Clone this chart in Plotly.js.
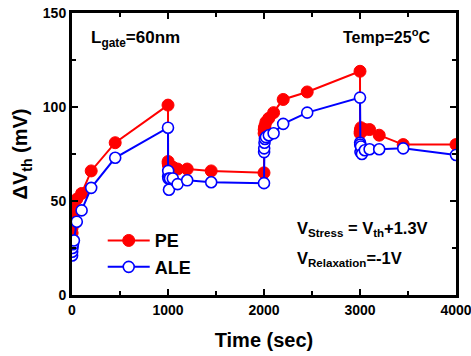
<!DOCTYPE html>
<html>
<head>
<meta charset="utf-8">
<script src="https://cdn.plot.ly/plotly-3.0.1.min.js"></script>
<style>
  html, body { margin: 0; padding: 0; background: #fff; }
  #chart { width: 471px; height: 356px; }
</style>
</head>
<body>
<div id="chart"></div>
<script>
// Measurement times (s): stress 0-1000, relax 1000-2000, stress 2000-3000, relax 3000-4000
const timeSec = [
  1, 2, 5, 10, 20, 50, 100, 200, 450, 1000,
  1001, 1002, 1005, 1010, 1020, 1050, 1100, 1200, 1450, 2000,
  2001, 2002, 2005, 2010, 2020, 2050, 2100, 2200, 2450, 3000,
  3001, 3002, 3005, 3010, 3020, 3050, 3100, 3200, 3450, 4000
];

// Threshold voltage shift (mV)
const dVthPE = [
  33, 36, 39, 42, 46, 51, 54, 66, 81, 101,
  71, 70, 69, 69, 68, 68, 67, 67, 66, 65,
  86, 88, 89, 90, 92, 94, 97, 104, 108, 119,
  86, 87, 88, 89, 88, 88, 88, 85, 80, 80
];
const dVthALE = [
  21, 23, 25, 27, 29, 39, 45, 57, 73, 89,
  63, 66, 62, 56, 62, 62, 59, 61, 60, 59.5,
  76, 78, 81, 83, 84, 85, 86, 91, 97, 105,
  81, 80, 76, 79, 75, 77, 77.5, 77.5, 78, 74.5
];

const xTickVals = [0, 1000, 2000, 3000, 4000];
const yTickVals = [0, 50, 100, 150];

const FONT = 'Liberation Sans, Arial, sans-serif';

const traces = [
  {
    name: 'PE', x: timeSec, y: dVthPE, type: 'scatter', mode: 'lines+markers',
    line: { color: '#ff0000', width: 2 },
    marker: { symbol: 'circle', size: 12, color: '#ff0000', line: { color: '#ff0000', width: 1 } }
  },
  {
    name: 'ALE', x: timeSec, y: dVthALE, type: 'scatter', mode: 'lines+markers',
    line: { color: '#0000ff', width: 2 },
    marker: { symbol: 'circle', size: 11, color: '#ffffff', line: { color: '#0000ff', width: 1.6 } }
  }
];

const axisCommon = {
  showline: true, linecolor: '#000', linewidth: 3, mirror: 'ticks',
  ticks: 'inside', ticklen: 6, tickwidth: 2, tickcolor: '#000',
  showgrid: false, zeroline: false, ticklabeloverflow: 'allow',
  tickfont: { family: FONT, size: 14, color: '#000', weight: 'bold' }
};

const layout = {
  width: 471, height: 356,
  margin: { l: 72, r: 15, t: 13, b: 61 },
  paper_bgcolor: '#fff', plot_bgcolor: '#fff',
  showlegend: true,
  legend: {
    x: 0.08, y: 0.258, xanchor: 'left', yanchor: 'top',
    bgcolor: 'rgba(0,0,0,0)', borderwidth: 0, itemwidth: 42,
    font: { family: FONT, size: 18, color: '#000', weight: 'bold' },
    tracegroupgap: 0
  },
  xaxis: Object.assign({}, axisCommon, {
    range: [0, 4000], tickvals: xTickVals, ticktext: xTickVals.map(String),
    minor: { dtick: 500, tick0: 0, ticks: 'inside', ticklen: 4, tickwidth: 2, tickcolor: '#000' },
    title: { text: 'Time (sec)', font: { family: FONT, size: 20, color: '#000', weight: 'bold' }, standoff: 17 }
  }),
  yaxis: Object.assign({}, axisCommon, {
    range: [0, 150], tickvals: yTickVals, ticktext: yTickVals.map(String),
    minor: { dtick: 25, tick0: 0, ticks: 'inside', ticklen: 4, tickwidth: 2, tickcolor: '#000' },
    title: { text: 'ΔV<sub>th</sub> (mV)', font: { family: FONT, size: 20, color: '#000', weight: 'bold' }, standoff: 10 }
  }),
  annotations: [
    {
      xref: 'paper', yref: 'paper', x: 0.045, y: 0.955, xanchor: 'left', yanchor: 'top', showarrow: false,
      text: 'L<sub>gate</sub>=60nm', font: { family: FONT, size: 17, color: '#000', weight: 'bold' }
    },
    {
      xref: 'paper', yref: 'paper', x: 0.937, y: 0.96, xanchor: 'right', yanchor: 'top', showarrow: false,
      text: 'Temp=25<sup>o</sup>C', font: { family: FONT, size: 16, color: '#000', weight: 'bold' }
    },
    {
      xref: 'paper', yref: 'paper', x: 0.58, y: 0.275, xanchor: 'left', yanchor: 'top', showarrow: false,
      text: 'V<sub>Stress</sub> = V<sub>th</sub>+1.3V', font: { family: FONT, size: 16.5, color: '#000', weight: 'bold' }
    },
    {
      xref: 'paper', yref: 'paper', x: 0.58, y: 0.17, xanchor: 'left', yanchor: 'top', showarrow: false,
      text: 'V<sub>Relaxation</sub>=-1V', font: { family: FONT, size: 16.5, color: '#000', weight: 'bold' }
    }
  ]
};

Plotly.newPlot('chart', traces, layout, { staticPlot: true, displayModeBar: false });
</script>
</body>
</html>
